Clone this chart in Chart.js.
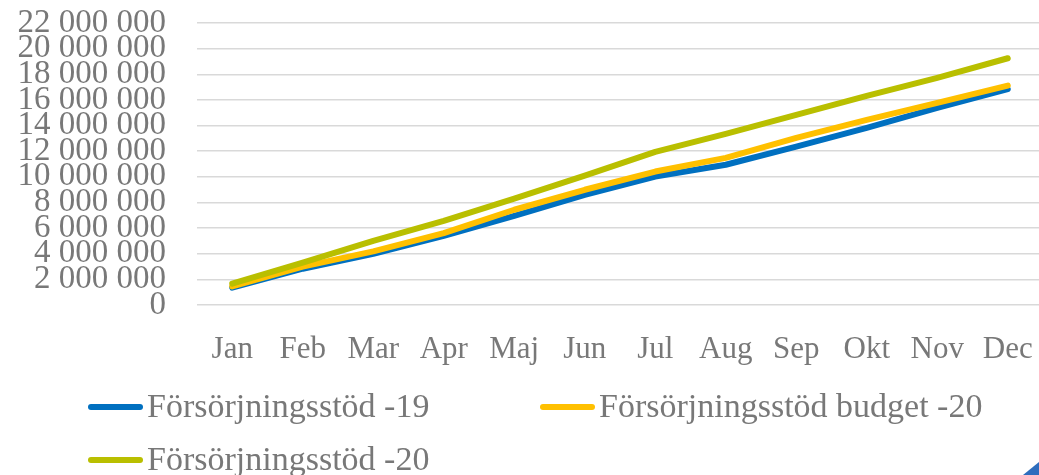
<!DOCTYPE html>
<html lang="sv">
<head>
    <meta charset="UTF-8">
    <title>Försörjningsstöd</title>
    <script src="https://cdn.jsdelivr.net/npm/chart.js@4.4.1/dist/chart.umd.min.js"></script>
    <style>
        body {
            margin: 0;
            background: white;
            overflow: hidden;
        }

        .wrap {
            width: 1043px;
            height: 475px;
        }

        .corner {
            position: fixed;
            right: 0;
            bottom: 0;
            width: 0;
            height: 0;
            border-left: 16px solid transparent;
            border-bottom: 13px solid #2e6dbd;
        }
    </style>
</head>
<body>
    <div class="wrap">
        <canvas id="myChart" width="1043" height="475"></canvas>
    </div>
    <div class="corner"></div>

<script>
const months = ["Jan", "Feb", "Mar", "Apr", "Maj", "Jun", "Jul", "Aug", "Sep", "Okt", "Nov", "Dec"];

const stod19 = [1350000, 2830000, 4000000, 5400000, 6960000, 8600000, 10020000, 10940000, 12360000, 13820000, 15380000, 16840000];
const budget20 = [1450000, 2990000, 4180000, 5610000, 7430000, 8990000, 10410000, 11480000, 13040000, 14440000, 15770000, 17120000];
const stod20 = [1660000, 3300000, 5010000, 6570000, 8290000, 10090000, 11950000, 13350000, 14830000, 16310000, 17720000, 19250000];

const yMin = 0;
const yMax = 22000000;
const yStep = 2000000;

const textColor = "#787878";
const fontFamily = "'Liberation Serif', serif";

// excel style legend: two fixed columns, drawn under the plot
const excelLegend = {
  id: "excelLegend",
  afterDraw(chart) {
    const ctx = chart.ctx;
    const slots = [[88, 407], [540, 407], [88, 460]];
    ctx.save();
    ctx.font = "34px " + fontFamily;
    ctx.textBaseline = "alphabetic";
    ctx.textAlign = "left";
    chart.data.datasets.forEach((ds, i) => {
      const [x, y] = slots[i];
      ctx.strokeStyle = ds.borderColor;
      ctx.lineWidth = 6;
      ctx.lineCap = "round";
      ctx.beginPath();
      ctx.moveTo(x + 3, y);
      ctx.lineTo(x + 52, y);
      ctx.stroke();
      ctx.fillStyle = textColor;
      ctx.fillText(ds.label, x + 59, y + 10);
    });
    ctx.restore();
  }
};

function spaced(v) {
  return String(v).replace(/\B(?=(\d{3})+(?!\d))/g, " ");
}

// tick padding also pads the chart area in chart.js, so the gaps come from
// invisible tick marks instead
new Chart("myChart", {
  type: "line",
  data: {
    labels: months,
    datasets: [
      { label: "Försörjningsstöd -19", data: stod19, borderColor: "#0070c0", order: 3 },
      { label: "Försörjningsstöd budget -20", data: budget20, borderColor: "#ffc000", order: 2 },
      { label: "Försörjningsstöd -20", data: stod20, borderColor: "#b9bf00", order: 1 }
    ]
  },
  options: {
    responsive: false,
    animation: false,
    elements: {
      line: { borderWidth: 6, tension: 0, fill: false, borderCapStyle: "round", borderJoinStyle: "round" },
      point: { radius: 0, hoverRadius: 0 }
    },
    layout: { padding: { top: 23, right: 0, bottom: 100, left: 0 } },
    plugins: {
      legend: { display: false },
      tooltip: { enabled: false }
    },
    scales: {
      x: {
        offset: true,
        grid: { display: false, drawTicks: true, tickLength: 26 },
        border: { display: false },
        ticks: {
          color: textColor,
          font: { family: fontFamily, size: 31 },
          padding: 0,
          maxRotation: 0,
          autoSkip: false
        },
        afterFit(scale) { scale.height = 70; }
      },
      y: {
        min: yMin,
        max: yMax,
        grid: { color: "#d9d9d9", lineWidth: 1.5, drawTicks: true, tickLength: 31, tickColor: "rgba(0,0,0,0)" },
        border: { display: false },
        ticks: {
          stepSize: yStep,
          autoSkip: false,
          color: textColor,
          font: { family: fontFamily, size: 33 },
          padding: 0,
          callback: v => spaced(v)
        },
        afterFit(scale) { scale.width = 197; }
      }
    }
  },
  plugins: [excelLegend]
});
</script>
</body>
</html>
